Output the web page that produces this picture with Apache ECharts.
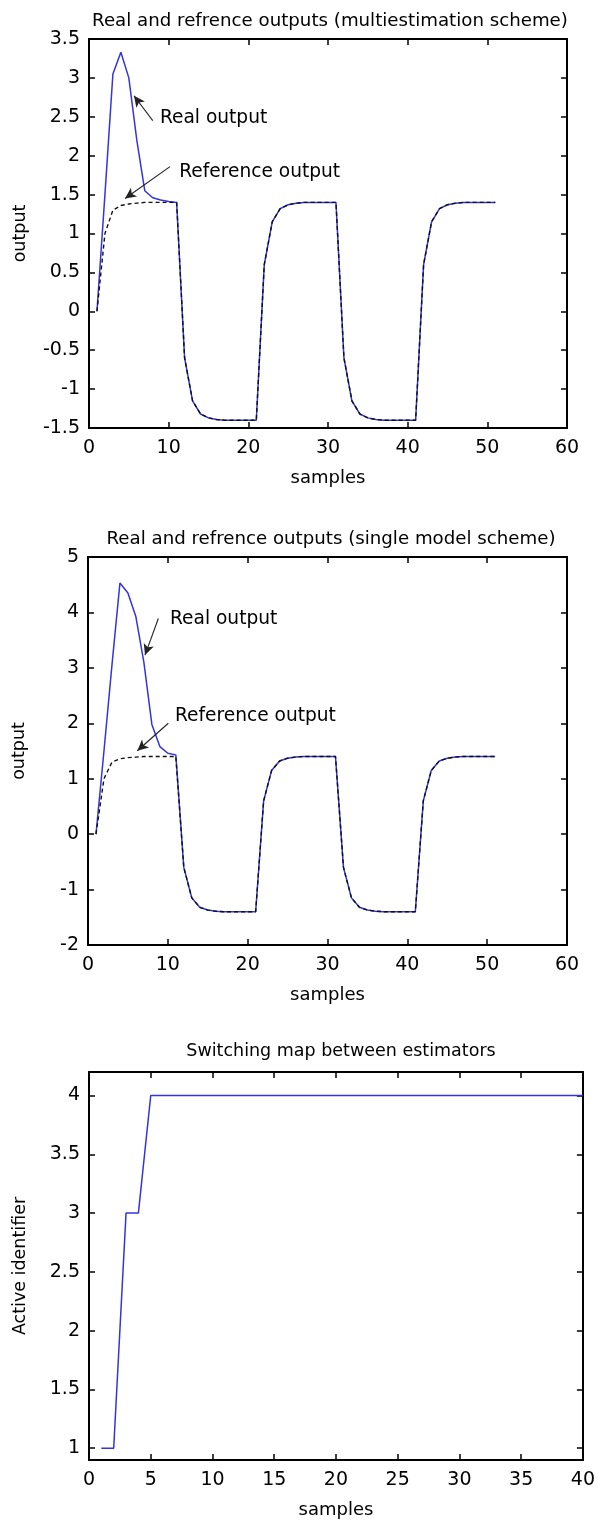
<!DOCTYPE html>
<html>
<head>
<meta charset="utf-8">
<script src="https://cdn.jsdelivr.net/npm/echarts@6/dist/echarts.min.js"></script>
<style>
html,body{margin:0;padding:0;background:#fff;}
#c{width:598px;height:1525px;}
</style>
</head>
<body>
<div id="c"></div>
<script>
// ---------- data ----------
var samples = [1,2,3,4,5,6,7,8,9,10,11,12,13,14,15,16,17,18,19,20,21,22,23,24,25,26,27,28,29,30,31,32,33,34,35,36,37,38,39,40,41,42,43,44,45,46,47,48,49,50,51];
var refOutput = [0,1.0,1.3,1.36,1.38,1.39,1.4,1.4,1.4,1.4,1.4,-0.6,-1.15,-1.32,-1.37,-1.39,-1.4,-1.4,-1.4,-1.4,-1.4,0.6,1.15,1.32,1.37,1.39,1.4,1.4,1.4,1.4,1.4,-0.6,-1.15,-1.32,-1.37,-1.39,-1.4,-1.4,-1.4,-1.4,-1.4,0.6,1.15,1.32,1.37,1.39,1.4,1.4,1.4,1.4,1.4];
var realMulti = [0,1.5,3.05,3.33,3.0,2.2,1.55,1.46,1.43,1.41,1.4,-0.6,-1.15,-1.32,-1.37,-1.39,-1.4,-1.4,-1.4,-1.4,-1.4,0.6,1.15,1.32,1.37,1.39,1.4,1.4,1.4,1.4,1.4,-0.6,-1.15,-1.32,-1.37,-1.39,-1.4,-1.4,-1.4,-1.4,-1.4,0.6,1.15,1.32,1.37,1.39,1.4,1.4,1.4,1.4,1.4];
var realSingle = [0,1.5,3.05,4.53,4.35,3.92,3.1,1.98,1.58,1.46,1.43,-0.6,-1.15,-1.32,-1.37,-1.39,-1.4,-1.4,-1.4,-1.4,-1.4,0.6,1.15,1.32,1.37,1.39,1.4,1.4,1.4,1.4,1.4,-0.6,-1.15,-1.32,-1.37,-1.39,-1.4,-1.4,-1.4,-1.4,-1.4,0.6,1.15,1.32,1.37,1.39,1.4,1.4,1.4,1.4,1.4];
var switchSamples = [1,2,3,4,5,6,7,8,9,10,11,12,13,14,15,16,17,18,19,20,21,22,23,24,25,26,27,28,29,30,31,32,33,34,35,36,37,38,39,40];
var activeId = [1,1,3,3,4,4,4,4,4,4,4,4,4,4,4,4,4,4,4,4,4,4,4,4,4,4,4,4,4,4,4,4,4,4,4,4,4,4,4,4];
var yTicks3 = [1,1.5,2,2.5,3,3.5,4];
var titles = ['Real and refrence outputs (multiestimation scheme)','Real and refrence outputs (single model scheme)','Switching map between estimators'];

// ---------- styles ----------
var FONT = 'DejaVu Sans';
var BLUE = '#3434dc';
function pairs(xs, ys){ return xs.map(function(x,i){ return [x, ys[i]]; }); }
var lineAxis = {onZero:false, lineStyle:{color:'#000', width:2}};
var tickIn = {inside:true, length:6, lineStyle:{color:'#000', width:1.5}};
function xAxes(g, min, max, interval){
  return [
    {gridIndex:g, type:'value', min:min, max:max, interval:interval, position:'bottom',
     name:'samples', nameLocation:'middle', nameGap:41,
     nameTextStyle:{fontFamily:FONT, fontSize:18, color:'#000'},
     axisLine:lineAxis, axisTick:tickIn,
     axisLabel:{color:'#000', fontFamily:FONT, fontSize:19, margin:11},
     splitLine:{show:false}},
    {gridIndex:g, type:'value', min:min, max:max, interval:interval, position:'top',
     axisLine:lineAxis, axisTick:tickIn, axisLabel:{show:false}, splitLine:{show:false}}
  ];
}
function yAxes(g, min, max, interval, name, custom){
  var left = {gridIndex:g, type:'value', min:min, max:max, position:'left',
     name:name, nameLocation:'middle', nameGap:60, nameRotate:90,
     nameTextStyle:{fontFamily:FONT, fontSize:17.5, color:'#000'},
     axisLine:lineAxis, axisTick:JSON.parse(JSON.stringify(tickIn)),
     axisLabel:{color:'#000', fontFamily:FONT, fontSize:19, margin:9},
     splitLine:{show:false}};
  var right = {gridIndex:g, type:'value', min:min, max:max, position:'right',
     axisLine:lineAxis, axisTick:JSON.parse(JSON.stringify(tickIn)), axisLabel:{show:false}, splitLine:{show:false}};
  if (custom){
    left.axisTick.customValues = custom; left.axisLabel.customValues = custom;
    right.axisTick.customValues = custom;
  } else { left.interval = interval; right.interval = interval; }
  return [left, right];
}
var arrowLine = {silent:true, symbol:['none','arrow'], symbolSize:[8,11], label:{show:false},
  lineStyle:{color:'#222', width:1.1, type:'solid'}, emphasis:{disabled:true}};

var option = {
  animation:false,
  backgroundColor:'#fff',
  title:[
    {text:titles[0], left:325, top:7, textAlign:'center', textStyle:{fontFamily:FONT, fontSize:18.2, fontWeight:'normal', color:'#000'}},
    {text:titles[1], left:326, top:525, textAlign:'center', textStyle:{fontFamily:FONT, fontSize:18.2, fontWeight:'normal', color:'#000'}},
    {text:titles[2], left:336, top:1037, textAlign:'center', textStyle:{fontFamily:FONT, fontSize:17.5, fontWeight:'normal', color:'#000'}}
  ],
  grid:[
    {left:89, top:39, width:478, height:389},
    {left:88, top:557, width:479, height:388},
    {left:89, top:1072, width:494, height:388}
  ],
  xAxis: [].concat(xAxes(0,0,60,10), xAxes(1,0,60,10), xAxes(2,0,40,5)),
  yAxis: [].concat(yAxes(0,-1.5,3.5,0.5,'output'), yAxes(1,-2,5,1,'output'), yAxes(2,0.9,4.2,null,'Active identifier',yTicks3)),
  series:[
    {type:'line', xAxisIndex:0, yAxisIndex:0, data:pairs(samples, realMulti), showSymbol:false,
     lineStyle:{color:BLUE, width:1.5}, z:2,
     markLine:Object.assign({data:[
       [{coord:[8.0,2.45]},{coord:[5.65,2.77]}],
       [{coord:[10.17,1.86]},{coord:[4.52,1.45]}]
     ]}, arrowLine)},
    {type:'line', xAxisIndex:0, yAxisIndex:0, data:pairs(samples, refOutput), showSymbol:false,
     lineStyle:{color:'#111', width:1.4, type:[4,3]}, z:3},
    {type:'line', xAxisIndex:2, yAxisIndex:2, data:pairs(samples, realSingle), showSymbol:false,
     lineStyle:{color:BLUE, width:1.5}, z:2,
     markLine:Object.assign({data:[
       [{coord:[8.81,3.89]},{coord:[7.14,3.23]}],
       [{coord:[10.06,2.0]},{coord:[6.18,1.505]}]
     ]}, arrowLine)},
    {type:'line', xAxisIndex:2, yAxisIndex:2, data:pairs(samples, refOutput), showSymbol:false,
     lineStyle:{color:'#111', width:1.4, type:[4,3]}, z:3},
    {type:'line', xAxisIndex:4, yAxisIndex:4, data:pairs(switchSamples, activeId), showSymbol:false,
     lineStyle:{color:BLUE, width:1.5}, z:2}
  ]
};
var chart = echarts.init(document.getElementById('c'), null, {renderer:'canvas'});
chart.setOption(option);

// annotation texts anchored in data coordinates
var notes = [
  {grid:0, pos:[8.9,2.48], text:'Real output'},
  {grid:0, pos:[11.33,1.79], text:'Reference output'},
  {grid:1, pos:[10.27,3.88], text:'Real output'},
  {grid:1, pos:[10.9,2.13], text:'Reference output'}
];
var gfx = notes.map(function(n){
  var p = chart.convertToPixel({gridIndex:n.grid}, n.pos);
  return {type:'text', x:p[0], y:p[1], style:{text:n.text, fontFamily:FONT, fontSize:18.6, fill:'#000', textVerticalAlign:'middle', textAlign:'left'}};
});
chart.setOption({graphic:gfx});
</script>
</body>
</html>
